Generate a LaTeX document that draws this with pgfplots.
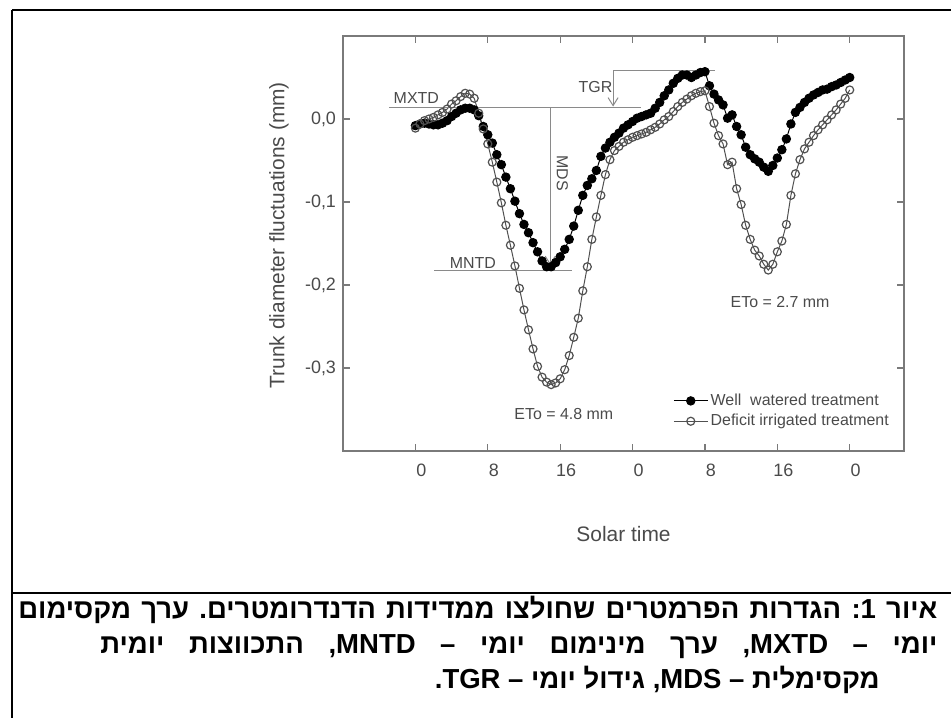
\documentclass[border=0pt]{standalone}
\usepackage{pgfplots}
\pgfplotsset{compat=1.18}
\usepackage{pgfplotstable}
\usepackage{fontspec}
\setmainfont{Liberation Sans}
\newfontfamily\hebfont[Script=Hebrew]{Liberation Sans}
\TeXXeTstate=1
\frenchspacing
\usetikzlibrary{arrows.meta}
\definecolor{axgray}{HTML}{7A7A7A}
\definecolor{txtgray}{HTML}{4A4A4A}
\definecolor{opengray}{HTML}{505050}
\definecolor{anngray}{HTML}{8A8A8A}
\tikzset{annot/.style={anngray, line width=0.5bp},
  atext/.style={font=\fontsize{8}{9}\selectfont, text=txtgray}}

\pgfplotstableread{
t v
0 -0.008
0.5 -0.006
1.0 -0.005
1.5 -0.006
2.0 -0.007
2.5 -0.007
3.0 -0.005
3.5 -0.002
4.0 0.003
4.5 0.007
5.0 0.011
5.5 0.013
6.0 0.013
6.5 0.011
7.0 0.004
7.5 -0.009
8.0 -0.019
8.5 -0.029
9.0 -0.043
9.5 -0.055
10.0 -0.070
10.5 -0.084
11.0 -0.099
11.5 -0.114
12.0 -0.127
12.5 -0.137
13.0 -0.149
13.5 -0.160
14.0 -0.171
14.5 -0.178
15.0 -0.178
15.5 -0.173
16.0 -0.166
16.5 -0.157
17.0 -0.145
17.5 -0.129
18.0 -0.110
18.5 -0.092
19.0 -0.080
19.5 -0.072
20.0 -0.062
20.5 -0.045
21.0 -0.035
21.5 -0.028
22.0 -0.022
22.5 -0.017
23.0 -0.011
23.5 -0.007
24.0 -0.003
24.5 0.001
25.0 0.003
25.5 0.005
26.0 0.007
26.5 0.013
27.0 0.020
27.5 0.028
28.0 0.035
28.5 0.043
29.0 0.049
29.5 0.053
30.0 0.053
30.5 0.050
31.0 0.053
31.5 0.056
32.0 0.057
32.5 0.040
33.0 0.030
33.5 0.023
34.0 0.017
34.5 0.001
35.0 0.005
35.5 -0.009
36.0 -0.019
36.5 -0.034
37.0 -0.043
37.5 -0.048
38.0 -0.052
38.5 -0.058
39.0 -0.063
39.5 -0.056
40.0 -0.047
40.5 -0.037
41.0 -0.024
41.5 -0.006
42.0 0.008
42.5 0.014
43.0 0.020
43.5 0.025
44.0 0.029
44.5 0.032
45.0 0.035
45.5 0.036
46.0 0.039
46.5 0.041
47.0 0.044
47.5 0.047
48.0 0.050
}\wellwatered

\pgfplotstableread{
t v
0 -0.011
0.5 -0.006
1.0 -0.002
1.5 0.000
2.0 0.002
2.5 0.005
3.0 0.008
3.5 0.012
4.0 0.018
4.5 0.022
5.0 0.027
5.5 0.031
6.0 0.030
6.5 0.025
7.0 0.007
7.5 -0.012
8.0 -0.030
8.5 -0.052
9.0 -0.076
9.5 -0.101
10.0 -0.128
10.5 -0.152
11.0 -0.177
11.5 -0.204
12.0 -0.230
12.5 -0.254
13.0 -0.277
13.5 -0.298
14.0 -0.311
14.5 -0.317
15.0 -0.320
15.5 -0.318
16.0 -0.313
16.5 -0.302
17.0 -0.285
17.5 -0.263
18.0 -0.240
18.5 -0.207
19.0 -0.178
19.5 -0.145
20.0 -0.118
20.5 -0.092
21.0 -0.067
21.5 -0.049
22.0 -0.038
22.5 -0.033
23.0 -0.028
23.5 -0.025
24.0 -0.022
24.5 -0.020
25.0 -0.018
25.5 -0.016
26.0 -0.013
26.5 -0.010
27.0 -0.006
27.5 -0.001
28.0 0.003
28.5 0.009
29.0 0.015
29.5 0.020
30.0 0.024
30.5 0.028
31.0 0.031
31.5 0.033
32.0 0.034
32.5 0.015
33.0 -0.005
33.5 -0.020
34.0 -0.030
34.5 -0.055
35.0 -0.052
35.5 -0.084
36.0 -0.103
36.5 -0.128
37.0 -0.145
37.5 -0.158
38.0 -0.165
38.5 -0.175
39.0 -0.182
39.5 -0.175
40.0 -0.160
40.5 -0.147
41.0 -0.127
41.5 -0.092
42.0 -0.066
42.5 -0.049
43.0 -0.036
43.5 -0.028
44.0 -0.020
44.5 -0.013
45.0 -0.007
45.5 -0.001
46.0 0.005
46.5 0.011
47.0 0.018
47.5 0.025
48.0 0.035
}\deficit

\begin{document}
\begin{tikzpicture}
\begin{scope}[x=0.5bp,y=-0.5bp]
\path[use as bounding box] (0,0) rectangle (951,718);
\draw[line width=1.2bp] (12,10) -- (12,718);
\draw[line width=1.1bp] (12,10) -- (257,10);
\draw[line width=0.7bp] (257,10) -- (940,10);
\draw[line width=1.1bp] (940,10) -- (951,10);
\draw[line width=1.2bp] (12,593) -- (951,593);
\begin{scope}[font=\hebfont\bfseries\fontsize{13.8}{16}\selectfont]
\node[anchor=base west, inner sep=0pt] at (18,618) {\makebox[459.5bp][s]{\beginR איור 1: הגדרות הפרמטרים שחולצו ממדידות הדנדרומטרים. ערך מקסימום\endR}};
\node[anchor=base west, inner sep=0pt] at (100,653) {\makebox[418.5bp][s]{\beginR יומי – \beginL MXTD\endL, ערך מינימום יומי – \beginL MNTD\endL, התכווצות יומית\endR}};
\node[anchor=base east, inner sep=0pt] at (880,688) {\beginR מקסימלית – \beginL MDS\endL, גידול יומי – \beginL TGR\endL.\endR};
\end{scope}
\end{scope}
\begin{axis}[
  at={(171.5bp,-225.5bp)}, anchor=south west,
  width=280.5bp, height=207.5bp, scale only axis,
  xmin=-8, xmax=54, ymin=-0.4, ymax=0.1,
  axis line style={axgray, line width=0.7bp},
  tick style={axgray, line width=0.6bp},
  major tick length=3.5bp,
  tick align=inside,
  xtick={0,8,16,24,32,40,48},
  xticklabels={0,8,16,0,8,16,0},
  ytick={-0.3,-0.2,-0.1,0},
  yticklabels={{-0,3},{-0,2},{-0,1},{0,0}},
  ticklabel style={font=\fontsize{9}{10}\selectfont, text=txtgray},
  xticklabel style={yshift=-3bp, xshift=3bp},
  xlabel={Solar time},
  ylabel={Trunk diameter fluctuations (mm)},
  label style={font=\fontsize{10.5}{12}\selectfont, text=txtgray},
  xlabel style={at={(axis description cs:0.5,0)}, anchor=center, yshift=-41.5bp},
  ylabel style={at={(axis description cs:-0.114,0.52)}, anchor=center},
  legend style={at={(axis description cs:0.588,0.145)}, anchor=north west, draw=none, fill=none,
    font=\fontsize{8}{9}\selectfont, text=txtgray, inner sep=0pt, row sep=0.5bp,
    nodes={inner sep=1.2bp}},
  legend cell align=left,
  clip=false,
]
\addplot[black, line width=0.5bp, mark=*, mark size=2.1bp, mark options={fill=black, draw=black}] table[x=t,y=v] {\wellwatered};
\addlegendentry{Well\ \ watered treatment}
\addplot[opengray, line width=0.5bp, mark=o, mark size=2bp, mark options={fill=white, draw=opengray, line width=0.6bp}] table[x=t,y=v] {\deficit};
\addlegendentry{Deficit irrigated treatment}

\draw[annot] (axis cs:-2.9,0.014) -- (axis cs:24.9,0.014);
\draw[annot,-{Straight Barb[length=4bp,width=5bp]}] (axis cs:14.9,0.014) -- (axis cs:14.9,-0.176);
\draw[annot] (axis cs:2.1,-0.183) -- (axis cs:17.3,-0.183);
\draw[annot] (axis cs:21.85,0.059) -- (axis cs:33.1,0.059);
\draw[annot,-{Straight Barb[length=4bp,width=5bp]}] (axis cs:21.85,0.059) -- (axis cs:21.85,0.015);
\node[atext] at (axis cs:0.1,0.025) {MXTD};
\node[atext] at (axis cs:6.35,-0.174) {MNTD};
\node[atext] at (axis cs:19.9,0.038) {TGR};
\node[atext, rotate=-90] at (axis cs:16.25,-0.065) {MDS};
\node[atext] at (axis cs:16.4,-0.356) {ETo = 4.8 mm};
\node[atext] at (axis cs:40.3,-0.221) {ETo = 2.7 mm};
\end{axis}
\end{tikzpicture}
\end{document}
